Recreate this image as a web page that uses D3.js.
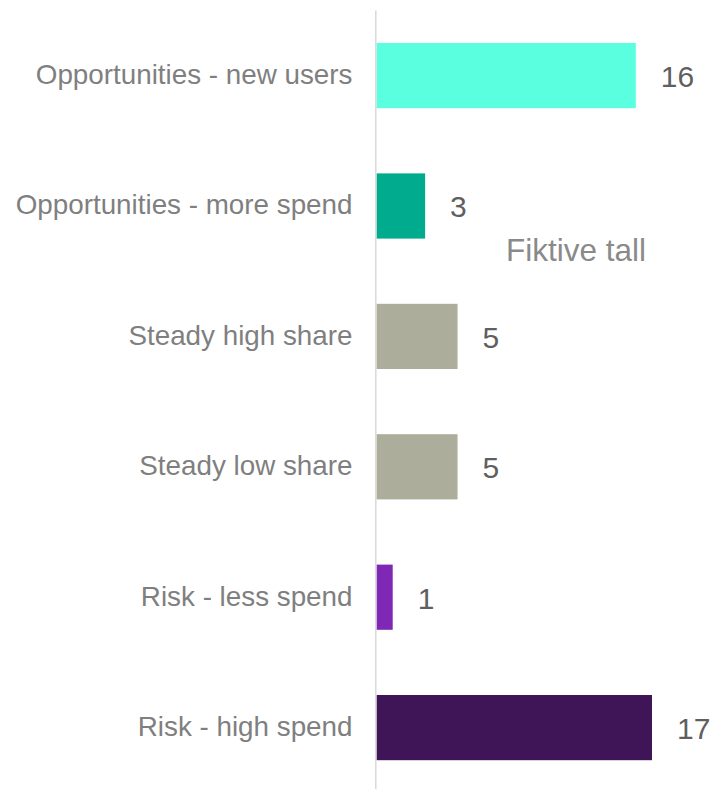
<!DOCTYPE html>
<html>
<head>
<meta charset="utf-8">
<script src="https://cdn.jsdelivr.net/npm/d3@7"></script>
<style>
  html, body { margin: 0; padding: 0; background: #fff; }
  svg { display: block; font-family: "Liberation Sans", Arial, sans-serif; }
</style>
</head>
<body>
<div id="container"></div>
<script>
/* DATA */
const categories = [
  "Opportunities - new users",
  "Opportunities - more spend",
  "Steady high share",
  "Steady low share",
  "Risk - less spend",
  "Risk - high spend"
];
const values = [16, 3, 5, 5, 1, 17];
const barColors = ["#5affe0", "#00ab8e", "#adad9c", "#adad9c", "#7f28b6", "#401557"];
const note = "Fiktive tall";

/* CONSTANTS */
const width = 715, height = 789;
const axisX = 376.5;

const svg = d3.select("#container")
  .append("svg")
  .attr("width", width)
  .attr("height", height);

/* SCALES */
const xScale = d3.scaleLinear()
  .domain([0, 17])
  .range([axisX, 652]);

const yScale = d3.scaleBand()
  .domain(categories)
  .range([10.4, 792.8])
  .paddingInner(0.5)
  .paddingOuter(0.25);

const color = d3.scaleOrdinal()
  .domain(categories)
  .range(barColors);

/* BARS */
svg.selectAll(".bar")
  .data(categories)
  .join("rect")
  .attr("class", "bar")
  .attr("x", xScale(0))
  .attr("y", d => yScale(d))
  .attr("width", (d, i) => xScale(values[i]) - xScale(0))
  .attr("height", yScale.bandwidth())
  .attr("fill", d => color(d));

/* vertical baseline */
svg.append("line")
  .attr("x1", axisX - 0.7).attr("x2", axisX - 0.7)
  .attr("y1", yScale.range()[0]).attr("y2", height)
  .attr("stroke", "#d9d9d9")
  .attr("stroke-width", 1.5);

/* category labels */
svg.selectAll(".cat-label")
  .data(categories)
  .join("text")
  .attr("class", "cat-label")
  .attr("x", axisX - 24)
  .attr("y", d => yScale(d) + yScale.bandwidth() / 2)
  .attr("dy", "0.3em")
  .attr("text-anchor", "end")
  .style("font-size", "27.8px")
  .style("fill", "#7f7f7f")
  .text(d => d);

/* value labels */
svg.selectAll(".val-label")
  .data(categories)
  .join("text")
  .attr("class", "val-label")
  .attr("x", (d, i) => xScale(values[i]) + 25)
  .attr("y", d => yScale(d) + yScale.bandwidth() / 2)
  .attr("dy", "0.38em")
  .style("font-size", "30px")
  .style("fill", "#5f5f5f")
  .text((d, i) => values[i]);

/* note */
svg.append("text")
  .attr("x", 506)
  .attr("y", 261)
  .style("font-size", "31.5px")
  .style("fill", "#8a8a8a")
  .text(note);
</script>
</body>
</html>
